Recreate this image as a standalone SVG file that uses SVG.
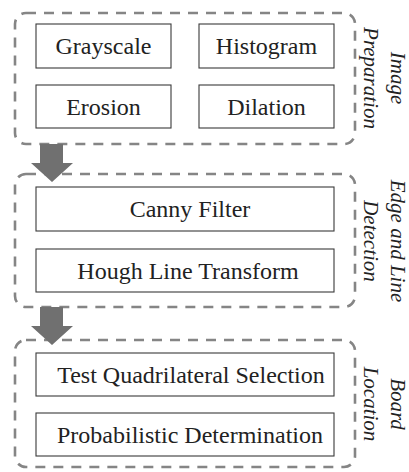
<svg xmlns="http://www.w3.org/2000/svg" width="409" height="472" viewBox="0 0 409 472">
<style>
.grp{fill:none;stroke:#858585;stroke-width:2.6;stroke-dasharray:10 8}
.box{fill:#fff;stroke:#3a3a3a;stroke-width:1.1}
.t{font-family:'Liberation Serif','Times New Roman',serif;font-size:24px;fill:#222;text-anchor:middle}
.lab{font-family:'Liberation Serif','Times New Roman',serif;font-size:21px;font-style:italic;fill:#222;text-anchor:middle}
.arr{fill:#707070}
</style>
<rect width="409" height="472" fill="#fff"/>
<g id="group-image-preparation">
<rect class="grp" x="15" y="13" width="340" height="131" rx="11"/>
<text class="lab" transform="translate(391,78) rotate(90)">Image</text>
<text class="lab" transform="translate(364,78) rotate(90)">Preparation</text>
</g>
<g id="group-edge-line">
<rect class="grp" x="15" y="174" width="340" height="133" rx="11"/>
<text class="lab" transform="translate(391,241) rotate(90)">Edge and Line</text>
<text class="lab" transform="translate(364,241) rotate(90)">Detection</text>
</g>
<g id="group-board-location">
<rect class="grp" x="15" y="340" width="340" height="127" rx="11"/>
<text class="lab" transform="translate(391,404) rotate(90)">Board</text>
<text class="lab" transform="translate(364,404) rotate(90)">Location</text>
</g>
<g id="grayscale"><rect class="box" x="36" y="24" width="135" height="44"/><text class="t" x="103.5" y="54">Grayscale</text></g>
<g id="histogram"><rect class="box" x="199" y="24" width="135" height="44"/><text class="t" x="266.5" y="54">Histogram</text></g>
<g id="erosion"><rect class="box" x="36" y="85" width="135" height="43"/><text class="t" x="103.5" y="115">Erosion</text></g>
<g id="dilation"><rect class="box" x="199" y="85" width="135" height="43"/><text class="t" x="266.5" y="115">Dilation</text></g>
<g id="canny"><rect class="box" x="36" y="187" width="298" height="44"/><text class="t" x="190" y="217">Canny Filter</text></g>
<g id="hough"><rect class="box" x="36" y="249" width="298" height="43"/><text class="t" x="188" y="279">Hough Line Transform</text></g>
<g id="test-quad"><rect class="box" x="36" y="353" width="298" height="43"/><text class="t" x="191" y="383">Test Quadrilateral Selection</text></g>
<g id="prob"><rect class="box" x="36" y="413" width="298" height="43"/><text class="t" x="190" y="443">Probabilistic Determination</text></g>
<g id="connectors">
<polygon class="arr" points="40,144 63,144 63,163 73,163 52,182 31,163 40,163"/>
<polygon class="arr" points="40,307 63,307 63,326 73,326 52,345 31,326 40,326"/>
</g>
</svg>
